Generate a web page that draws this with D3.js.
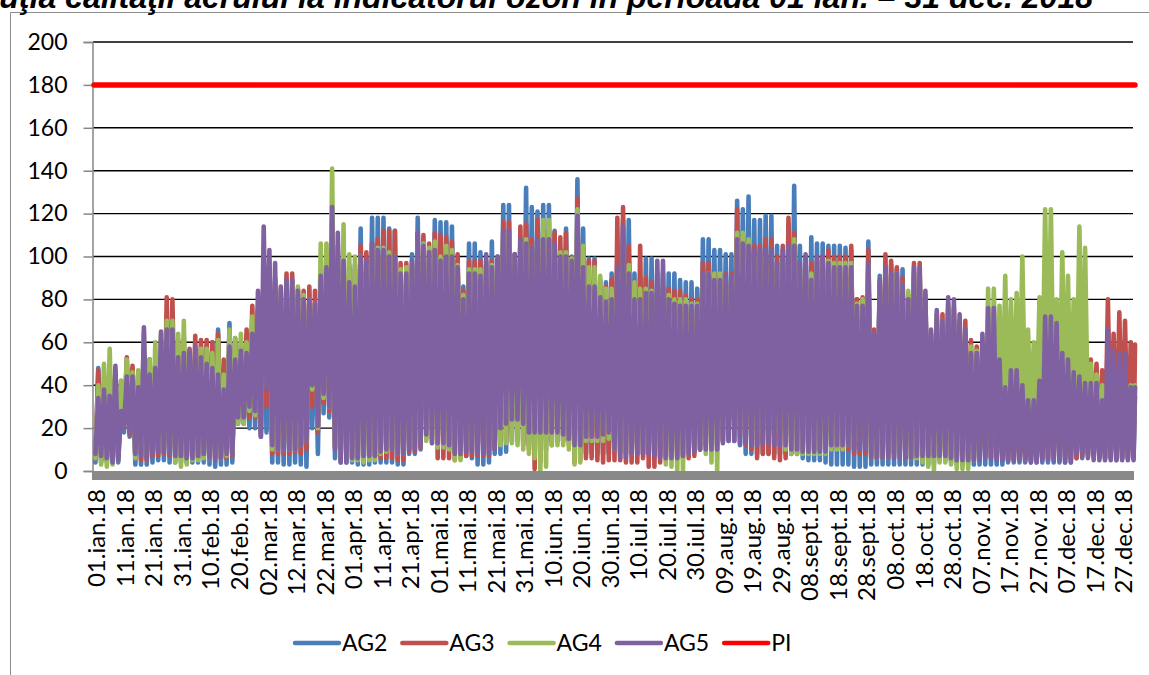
<!DOCTYPE html>
<html><head><meta charset="utf-8">
<script src="https://cdn.jsdelivr.net/npm/d3@7"></script>
<style>
body{margin:0;background:#fff;}
svg{display:block;}
</style></head>
<body>
<svg id="chart" width="1149" height="675"></svg>
<script>
// Title
const titleText = "Evoluţia calităţii aerului la indicatorul ozon în perioada 01 ian. – 31 dec. 2018";
// Y ticks
const yTicks = [0,20,40,60,80,100,120,140,160,180,200];
// X tick labels (every 10 days)
const xTickLabels = ["01.ian.18","11.ian.18","21.ian.18","31.ian.18","10.feb.18","20.feb.18","02.mar.18","12.mar.18","22.mar.18","01.apr.18","11.apr.18","21.apr.18","01.mai.18","11.mai.18","21.mai.18","31.mai.18","10.iun.18","20.iun.18","30.iun.18","10.iul.18","20.iul.18","30.iul.18","09.aug.18","19.aug.18","29.aug.18","08.sept.18","18.sept.18","28.sept.18","08.oct.18","18.oct.18","28.oct.18","07.nov.18","17.nov.18","27.nov.18","07.dec.18","17.dec.18","27.dec.18"];
const xTickDays = xTickLabels.map((d,i)=>i*10);
const seriesNames = ["AG2","AG3","AG4","AG5","PI"];
const seriesColors = ["#4A7EBB","#C0504D","#9BBB59","#7F60A0","#FF0000"];
const piValue = 180;
// Two-day bins (183): max and min ozone per bin, µg/m³
const ag2Max = [48,30,35,40,35,48,45,44,50,52, 45,55,58,60,55,55,55,55,57,58, 60,66,48,69,62,58,58,66,70,80,
 95,90,80,85,84,82,80,80,78,90, 95,110,100,95,95,96,113,100,118,118, 118,113,112,90,92,101,118,104,103,117,
 116,116,114,98,86,106,106,102,98,107, 100,124,124,101,108,132,123,121,124,124, 112,104,113,100,136,113,99,99,89,88,
 92,100,117,117,92,90,99,99,93,92, 92,92,89,88,88,85,108,108,103,103, 101,101,126,122,128,117,117,119,119,105,
 100,115,133,105,100,109,106,106,105,105, 105,104,103,80,80,107,62,91,95,96, 94,94,80,92,92,80,62,70,68,74,
 70,66,60,52,50,55,60,60,48,35, 40,40,35,30,30,35,55,55,55,45, 40,40,40,38,36,36,30,45,40,40, 40,35,35];
const ag2Min = [4,4,4,4,4,18,16,3,3,3, 4,5,5,4,4,4,4,4,4,4, 3,2,3,3,4,22,22,20,20,16,
 18,4,4,3,3,4,3,2,20,8, 27,25,6,4,4,4,3,3,3,4, 4,4,4,3,3,8,8,10,19,20,
 14,12,10,9,8,7,6,3,3,4, 8,8,9,14,14,14,12,12,12,14, 14,14,14,14,12,10,8,8,8,8,
 8,10,9,8,8,8,8,8,8,7, 7,7,8,8,9,9,10,12,12,12, 14,14,14,12,8,8,8,8,8,8,
 8,8,8,8,6,5,5,5,4,3, 3,3,3,2,2,2,3,3,3,3, 3,3,3,3,3,3,3,3,5,5,
 4,3,3,3,3,3,3,3,3,3, 4,4,4,4,4,4,4,4,4,4, 4,4,6,6,8,8,6,6,6,5, 6,6,6];
const ag3Max = [47,32,40,42,42,53,49,45,55,52, 50,60,81,80,61,62,57,63,61,61, 60,64,52,66,60,59,66,77,75,85,
 92,88,84,92,92,85,84,86,84,92, 98,118,105,100,96,94,105,102,106,108, 112,112,112,97,97,96,111,110,106,111,
 110,109,107,101,84,98,98,98,96,98, 98,116,116,101,114,115,108,117,112,112, 111,109,111,99,127,104,98,98,86,86,
 89,118,123,105,88,105,90,88,86,86, 85,84,84,82,80,80,97,97,92,92, 92,92,122,110,105,105,105,108,108,100,
 105,118,111,95,95,97,98,100,103,100, 100,100,105,80,81,103,66,88,101,98, 95,90,82,97,97,82,64,73,73,76,
 76,70,70,61,58,60,70,70,55,40, 45,45,38,35,35,45,62,65,70,55, 55,50,50,66,52,50,47,80,64,74, 70,60,59];
const ag3Min = [6,5,5,5,6,20,17,6,5,5, 7,7,8,7,6,6,6,7,6,7, 6,6,6,6,7,23,24,25,25,18,
 30,8,8,8,8,9,8,10,30,18, 32,28,11,6,6,6,6,6,7,7, 6,6,6,5,5,9,9,11,15,15,
 6,6,6,5,6,7,7,7,7,7, 10,14,14,18,16,12,10,1,4,10, 12,14,14,12,4,5,6,6,5,4,
 5,5,5,4,4,4,6,2,2,4, 5,6,6,6,6,7,10,12,12,12, 14,20,20,16,12,10,6,8,8,6,
 5,6,8,8,10,10,10,10,10,10, 10,10,10,8,8,8,8,6,6,8, 8,8,6,6,6,6,6,6,6,6,
 6,6,6,6,6,6,8,6,6,6, 5,5,6,5,5,6,6,6,6,6, 6,6,6,7,7,7,7,6,6,6, 6,6,6];
const ag4Max = [40,50,57,47,42,52,46,47,64,52, 60,64,70,70,64,70,52,56,57,57, 55,61,45,66,62,64,60,72,76,80,
 92,85,85,88,87,86,82,80,78,106, 106,141,102,115,101,100,100,96,104,104, 104,102,100,94,95,96,108,106,104,107,
 100,105,103,96,82,94,94,94,95,96, 96,111,111,100,106,108,104,105,117,117, 104,102,102,99,122,105,95,95,91,85,
 85,92,105,96,88,85,85,84,86,86, 82,80,80,80,78,78,90,92,92,92, 90,90,111,111,108,100,100,100,100,96,
 98,104,108,95,95,92,96,96,98,97, 97,97,97,78,80,96,60,85,92,90, 92,87,84,92,92,80,64,72,70,78,
 72,70,62,58,56,62,85,85,77,91, 80,83,100,66,60,81,122,122,80,102, 91,80,114,104,50,45,40,50,50,45, 45,40,40];
const ag4Min = [6,3,2,3,5,22,20,6,8,8, 9,10,10,9,4,2,3,5,5,6, 6,6,6,7,8,22,22,28,26,20,
 40,10,10,10,10,10,12,14,38,20, 34,30,12,6,6,5,5,4,5,5, 8,9,10,8,8,13,13,14,14,13,
 11,11,10,5,5,12,14,15,16,16, 14,12,13,13,12,10,8,6,0,2, 12,12,12,10,3,4,14,14,14,14,
 15,10,8,8,8,10,10,12,12,14, 3,2,0,0,8,10,12,8,4,0, 20,25,25,22,20,18,16,18,18,18,
 16,10,8,8,8,8,8,8,8,10, 10,10,12,14,14,14,6,6,6,6, 8,8,8,6,6,4,2,0,4,4,
 3,1,1,1,5,10,12,14,16,20, 20,25,25,25,22,20,30,30,28,25, 25,22,30,30,20,20,15,15,15,15, 15,15,15];
const ag5Max = [34,38,35,49,28,44,44,39,67,45, 48,65,66,66,53,55,56,58,53,50, 48,45,38,58,52,56,55,64,84,114,
 103,97,86,89,89,84,80,80,78,91, 95,123,111,98,88,86,100,98,106,103, 103,100,100,92,92,98,111,105,102,103,
 98,100,100,95,80,92,92,91,101,95, 100,112,112,101,108,106,104,108,108,108, 106,100,100,98,119,95,86,86,81,79,
 80,95,114,92,80,80,83,83,98,98, 80,78,77,77,77,77,92,92,89,89, 91,91,108,106,105,103,103,103,103,97,
 103,105,105,97,101,89,100,100,97,95, 95,95,95,77,77,97,64,89,95,92, 92,87,80,95,95,84,66,75,70,81,
 80,73,66,55,55,64,76,76,52,39, 47,47,40,33,33,42,72,72,69,55, 52,46,44,41,41,41,33,66,56,55, 55,39,39];
const ag5Min = [8,7,6,4,5,20,18,8,7,6, 8,9,9,8,7,7,6,6,7,8, 6,5,6,8,8,25,25,30,28,16,
 38,12,10,10,10,10,12,14,40,21, 36,30,10,4,4,6,6,7,7,7, 9,10,10,8,8,10,10,12,17,13,
 13,13,12,8,8,9,9,8,8,8, 10,20,22,24,24,22,18,18,18,18, 18,18,17,15,12,12,16,16,16,17,
 18,10,6,6,8,8,8,8,7,6, 6,6,6,7,8,9,10,10,10,10, 13,14,14,13,13,12,12,13,13,12,
 12,12,10,10,9,9,9,9,9,12, 12,12,12,10,10,10,6,6,6,6, 6,6,6,6,7,7,7,7,7,7,
 6,5,5,5,5,5,6,6,5,5, 5,5,5,5,4,4,5,5,5,5, 4,4,8,8,6,5,5,5,5,5, 5,5,5];

const svg = d3.select("#chart");
const x = d3.scaleLinear().domain([0,365]).range([94,1135]);
const y = d3.scaleLinear().domain([0,200]).range([471,42]);

// outer frame
svg.append("path").attr("d","M10.5,675 L10.5,12.5 L1149,12.5").attr("fill","none").attr("stroke","#8c8c8c").attr("stroke-width",1);

// title (partly cut off at the top, as in the source picture)
svg.append("text").attr("x",1093).attr("y",8).attr("text-anchor","end")
  .attr("font-family","'Liberation Sans', Arial, sans-serif").attr("font-weight","bold").attr("font-style","italic")
  .attr("font-size",32).attr("fill","#000").text(titleText);

// gridlines
svg.append("g").selectAll("line").data(yTicks.filter(v=>v>0)).join("line")
  .attr("x1",93).attr("x2",1133).attr("y1",d=>y(d)).attr("y2",d=>y(d))
  .attr("stroke","#000").attr("stroke-width",1.4);

// y axis
const yAxis = d3.axisLeft(y).tickValues(yTicks).tickSize(9).tickPadding(16).tickFormat(d3.format("d"));
const gy = svg.append("g").attr("transform","translate(92.5,0)").call(yAxis);
gy.select(".domain").attr("stroke","#868686").attr("stroke-width",1.5);
gy.selectAll(".tick line").attr("stroke","#868686").attr("stroke-width",1.5);
gy.selectAll(".tick text").attr("font-family","Lato, 'Open Sans', sans-serif").attr("font-size",23).attr("fill","#000");

// series lines
const series = [[ag2Max,ag2Min],[ag3Max,ag3Min],[ag4Max,ag4Min],[ag5Max,ag5Min]];
const line = d3.line().x(d=>x(d[0])).y(d=>y(d[1]));
series.forEach((s,k)=>{
  const pts = [];
  s[0].forEach((mx,i)=>{
    pts.push([2*i+0.5, s[1][i]]);
    pts.push([Math.min(2*i+1.5,365), mx]);
  });
  svg.append("path").datum(pts).attr("d",line).attr("fill","none")
    .attr("stroke",seriesColors[k]).attr("stroke-width",4.6)
    .attr("stroke-linejoin","round").attr("stroke-linecap","round");
});

// PI line
svg.append("line").attr("x1",x(0)).attr("x2",x(365)).attr("y1",y(piValue)).attr("y2",y(piValue))
  .attr("stroke",seriesColors[4]).attr("stroke-width",5.5).attr("stroke-linecap","round");

// x axis band
svg.append("rect").attr("x",92).attr("y",471).attr("width",1042).attr("height",9).attr("fill","#898989");

// x tick labels
svg.append("g").selectAll("text").data(xTickLabels).join("text")
  .attr("transform",(d,i)=>`translate(${x(xTickDays[i])+3},489) rotate(-90)`)
  .attr("text-anchor","end").attr("dy","0.35em")
  .attr("font-family","Lato, 'Open Sans', sans-serif").attr("font-size",24).attr("fill","#000")
  .text(d=>d);

// legend
const lg = svg.append("g").attr("transform","translate(293,643)");
seriesNames.forEach((n,i)=>{
  const g = lg.append("g").attr("transform",`translate(${i*107.3},0)`);
  g.append("line").attr("x1",2).attr("x2",46).attr("y1",0).attr("y2",0)
    .attr("stroke",seriesColors[i]).attr("stroke-width",4.5).attr("stroke-linecap","round");
  g.append("text").attr("x",49).attr("y",0).attr("dy","0.35em")
    .attr("font-family","Lato, 'Open Sans', sans-serif").attr("font-size",23).attr("fill","#000").text(n);
});
</script>
</body></html>
